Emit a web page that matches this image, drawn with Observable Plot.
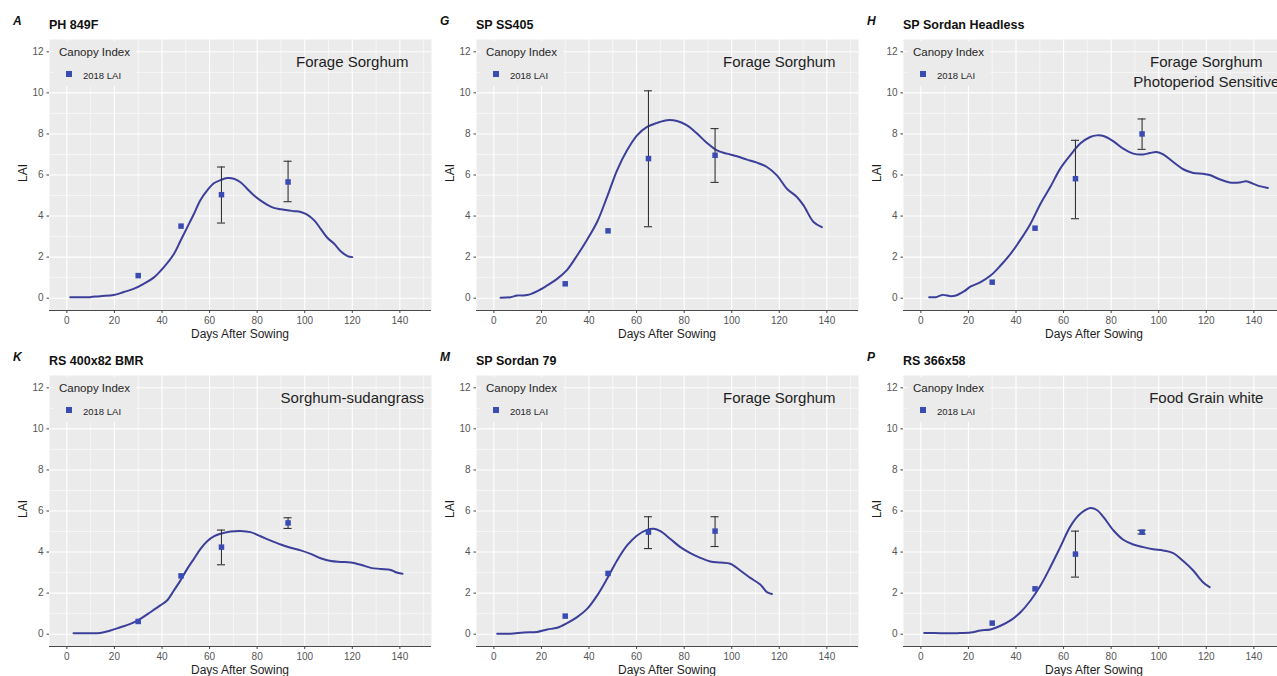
<!DOCTYPE html>
<html><head><meta charset="utf-8">
<script src="https://cdn.jsdelivr.net/npm/d3@7"></script>
<script src="https://cdn.jsdelivr.net/npm/@observablehq/plot@0.6"></script>
<style>
body{margin:0;background:#fff}
#wrap{position:relative;width:1277px;height:676px;overflow:hidden;background:#fff;font-family:"Liberation Sans",Arial,sans-serif}
.abs{position:absolute;white-space:nowrap;line-height:1}
.abs svg{display:block;max-width:none !important}
</style></head><body><div id="wrap"></div>
<script>
// ---------------- data ----------------
const panelLetters = ["A", "G", "H", "K", "M", "P"];
const panelTitles = ["PH 849F", "SP SS405", "SP Sordan Headless", "RS 400x82 BMR", "SP Sordan 79", "RS 366x58"];
const panelTypes = [
  ["Forage Sorghum"],
  ["Forage Sorghum"],
  ["Forage Sorghum", "Photoperiod Sensitive"],
  ["Sorghum-sudangrass"],
  ["Forage Sorghum"],
  ["Food Grain white"]
];
const annotX = 120;
const annotY = [11.5, 10.5];

const legendTitle = "Canopy Index";
const legendLabel = "2018 LAI";
const xLabel = "Days After Sowing";
const yLabel = "LAI";

const xTicks = [0, 20, 40, 60, 80, 100, 120, 140];
const xMinor = [10, 30, 50, 70, 90, 110, 130, 150];
const yTicks = [0, 2, 4, 6, 8, 10, 12];
const yMinor = [1, 3, 5, 7, 9, 11];
const xDomain = [-7.3, 153.3];
const yDomain = [-0.6, 12.6];

const obsDays = [30, 48, 65, 93];
const obsA = [1.10, 3.51, 5.04, 5.66];
const obsG = [0.70, 3.28, 6.80, 6.96];
const obsH = [0.78, 3.41, 5.82, 8.00];
const obsK = [0.62, 2.84, 4.24, 5.42];
const obsM = [0.88, 2.96, 4.97, 5.02];
const obsP = [0.54, 2.21, 3.90, 4.97];

// error bars [lo, hi] per observation day (null = none)
const errA = [null, null, [3.66, 6.39], [4.70, 6.67]];
const errG = [null, null, [3.48, 10.10], [5.64, 8.26]];
const errH = [null, null, [3.87, 7.69], [7.25, 8.73]];
const errK = [null, null, [3.38, 5.07], [5.15, 5.67]];
const errM = [null, null, [4.17, 5.72], [4.27, 5.72]];
const errP = [null, null, [2.78, 5.02], [4.88, 5.06]];

// simulated LAI curves [day, LAI]
const lineA = [[1.4,0.05],[7,0.05],[9.8,0.05],[14,0.1],[19.7,0.15],[23.9,0.3],[28,0.45],[32.3,0.7],[36.5,1.0],[40.7,1.5],[45,2.15],[47.8,2.8],[50.6,3.45],[53.4,4.1],[56,4.75],[59,5.25],[61.8,5.6],[64.6,5.75],[67.4,5.85],[70.2,5.82],[73,5.65],[75.8,5.33],[78.7,5.0],[81.5,4.75],[84.3,4.55],[87,4.4],[90,4.33],[92.7,4.28],[95.5,4.24],[98.3,4.2],[101,4.07],[104,3.79],[106.7,3.38],[109.6,2.93],[112.4,2.65],[115,2.3],[118,2.05],[120,2.0]];
const lineG = [[2.8,0.02],[7,0.05],[9.8,0.13],[14,0.15],[18.2,0.34],[22.4,0.62],[26.6,0.94],[30.8,1.38],[35,2.08],[39.2,2.85],[43.4,3.71],[47.6,4.93],[51.8,6.23],[56,7.2],[60.2,7.93],[64.4,8.34],[68.6,8.54],[72.8,8.67],[77,8.63],[81.2,8.42],[85.4,8.02],[89.6,7.56],[93.8,7.2],[98,7.04],[102.2,6.91],[106.4,6.75],[110.6,6.6],[114.8,6.39],[119,5.98],[123.2,5.33],[127.4,4.93],[130.2,4.52],[134.4,3.71],[137.9,3.46]];
const lineH = [[3.5,0.05],[6.3,0.05],[9,0.16],[12.6,0.1],[14.7,0.13],[18.1,0.33],[21,0.57],[25.1,0.78],[29.3,1.1],[33.5,1.59],[37.7,2.16],[41.9,2.85],[46.1,3.63],[50.3,4.6],[54.4,5.41],[58.6,6.31],[62.8,6.96],[67,7.53],[71.2,7.85],[74,7.93],[76.8,7.9],[81,7.64],[85.1,7.28],[89.3,7.04],[93.5,7.0],[96.3,7.07],[99.1,7.12],[101.9,7.0],[106.1,6.63],[110.3,6.28],[114.5,6.1],[118.6,6.06],[121.4,6.0],[125.6,5.79],[129.8,5.64],[134,5.64],[136.8,5.69],[139.6,5.58],[142.4,5.46],[145.9,5.37]];
const lineK = [[2.8,0.05],[8.4,0.05],[14,0.06],[18.3,0.18],[22.5,0.34],[26.7,0.5],[30.9,0.75],[35.1,1.07],[39.3,1.4],[42.1,1.64],[45,2.13],[47.7,2.61],[50.6,3.18],[53.4,3.67],[56.2,4.16],[59,4.53],[61.8,4.76],[64.6,4.89],[68.8,5.0],[73,5.03],[77.2,4.97],[81.4,4.77],[85.7,4.56],[89.9,4.37],[94.1,4.21],[98.3,4.08],[102.5,3.91],[106.7,3.7],[111,3.56],[115.2,3.52],[119.4,3.49],[123.6,3.38],[127.8,3.23],[132,3.18],[136.2,3.13],[138.3,3.02],[141.1,2.94]];
const lineM = [[1.4,0.02],[7,0.02],[12.6,0.08],[18.2,0.11],[22.4,0.23],[26.6,0.31],[30.8,0.54],[35,0.83],[39.2,1.23],[43.4,1.88],[47.6,2.7],[51.8,3.59],[56,4.32],[60.2,4.81],[64.4,5.08],[67.2,5.13],[70,5.02],[74.2,4.64],[78.4,4.24],[82.6,3.95],[86.8,3.72],[91,3.54],[95.2,3.49],[99.4,3.43],[103.6,3.1],[107.8,2.74],[112,2.42],[114.8,2.05],[116.9,1.96]];
const lineP = [[1.4,0.06],[8.4,0.05],[15.4,0.05],[20.9,0.08],[25.1,0.18],[29.3,0.23],[33.5,0.41],[37.7,0.67],[41.9,1.07],[46.1,1.64],[50.3,2.37],[54.4,3.26],[58.6,4.24],[62.8,5.24],[67,5.86],[71.2,6.15],[74,6.05],[76.8,5.7],[81,5.05],[85.1,4.6],[89.3,4.37],[93.5,4.24],[97.7,4.14],[101.9,4.08],[106.1,3.95],[110.3,3.56],[114.5,3.1],[118.6,2.53],[121.4,2.29]];

const allObs = [obsA, obsG, obsH, obsK, obsM, obsP];
const allErr = [errA, errG, errH, errK, errM, errP];
const allLines = [lineA, lineG, lineH, lineK, lineM, lineP];

// ---------------- layout / style ----------------
const colLeft = [0, 432, 862], colWidth = [432, 430, 424], colMarginLeft = [49, 44, 41];
const rowTop = [0, 336];
const FRAME_W = 382, SVG_H = 340, MT = 39, MB = 30;
const FONT = '"Liberation Sans", Arial, sans-serif';
const panelBg = "#EBEBEB", lineColor = "#3B3F9A", pointColor = "#3A4BB2", errColor = "#333333";
const capHalf = 1.7;

const wrap = document.getElementById("wrap");
function addDiv(html, css) {
  const d = document.createElement("div");
  d.className = "abs";
  d.innerHTML = html;
  Object.assign(d.style, css);
  wrap.appendChild(d);
  return d;
}

for (let i = 0; i < 6; i++) {
  const c = i % 3, r = Math.floor(i / 3);
  const left = colLeft[c], top = rowTop[r];
  const fl = left + colMarginLeft[c];
  const obs = obsDays.map((d, k) => ({day: d, lai: allObs[i][k]}));
  const err = obsDays.map((d, k) => allErr[i][k] ? {day: d, lo: allErr[i][k][0], hi: allErr[i][k][1]} : null).filter(Boolean);
  const line = allLines[i].map(([d, v]) => ({day: d, lai: v}));
  const annot = panelTypes[i].map((t, k) => ({text: t, x: annotX, y: annotY[k]}));

  const chart = Plot.plot({
    width: colWidth[c], height: SVG_H,
    marginLeft: colMarginLeft[c], marginRight: colWidth[c] - colMarginLeft[c] - FRAME_W,
    marginTop: MT, marginBottom: MB,
    style: {background: "transparent", fontFamily: FONT, fontSize: "10px", overflow: "visible", maxWidth: "none"},
    x: {domain: xDomain, axis: null},
    y: {domain: yDomain, axis: null},
    marks: [
      Plot.frame({fill: panelBg, stroke: "none"}),
      Plot.gridX(xMinor, {stroke: "#fff", strokeOpacity: 1, strokeWidth: 0.55}),
      Plot.gridY(yMinor, {stroke: "#fff", strokeOpacity: 1, strokeWidth: 0.55}),
      Plot.gridX(xTicks, {stroke: "#fff", strokeOpacity: 1, strokeWidth: 1.1}),
      Plot.gridY(yTicks, {stroke: "#fff", strokeOpacity: 1, strokeWidth: 1.1}),
      Plot.ruleY([yDomain[0]], {stroke: "#4a4a4a", strokeWidth: 1.2}),
      Plot.axisX(xTicks, {tickSize: 3, tickPadding: 3, label: null, stroke: "#444", fill: "#555", fontSize: 10}),
      Plot.axisY(yTicks, {tickSize: 2.5, tickPadding: 3.5, label: null, stroke: "#444", fill: "#555", fontSize: 10}),
      Plot.line(line, {x: "day", y: "lai", stroke: lineColor, strokeWidth: 2, curve: "catmull-rom"}),
      Plot.ruleX(err, {x: "day", y1: "lo", y2: "hi", stroke: errColor, strokeWidth: 1.1}),
      Plot.ruleY(err, {y: "lo", x1: d => d.day - capHalf, x2: d => d.day + capHalf, stroke: errColor, strokeWidth: 1.1}),
      Plot.ruleY(err, {y: "hi", x1: d => d.day - capHalf, x2: d => d.day + capHalf, stroke: errColor, strokeWidth: 1.1}),
      Plot.dot(obs, {x: "day", y: "lai", symbol: "square", fill: pointColor, stroke: "none", r: 3.1}),
      Plot.text(annot, {x: "x", y: "y", text: "text", fontSize: 15, fill: "#1e1e1e", fontFamily: FONT})
    ]
  });
  const holder = addDiv("", {left: left + "px", top: top + "px", width: colWidth[c] + "px", height: SVG_H + "px"});
  holder.appendChild(chart);

  // panel letter & title
  addDiv(panelLetters[i], {left: (fl - 36) + "px", top: (top + 14.8) + "px", fontSize: "12px", fontWeight: "bold", fontStyle: "italic", color: "#111"});
  addDiv(panelTitles[i], {left: fl + "px", top: (top + 19.4) + "px", fontSize: "12.5px", fontWeight: "bold", color: "#111"});

  // legend
  addDiv("", {left: (fl + 5) + "px", top: (top + 41) + "px", width: "82px", height: "45px", background: panelBg});
  addDiv(legendTitle, {left: (fl + 10) + "px", top: (top + 47.3) + "px", fontSize: "11.5px", color: "#262626"});
  addDiv("", {left: (fl + 17) + "px", top: (top + 71) + "px", width: "5.5px", height: "5.5px", background: pointColor});
  addDiv(legendLabel, {left: (fl + 34) + "px", top: (top + 70.5) + "px", fontSize: "9.5px", color: "#262626"});

  // axis titles
  addDiv(xLabel, {left: fl + "px", width: FRAME_W + "px", textAlign: "center", top: (top + 327.8) + "px", fontSize: "12px", color: "#1e1e1e"});
  addDiv(yLabel, {left: (fl - 26) + "px", top: (top + 173) + "px", fontSize: "12px", color: "#1e1e1e", transform: "translate(-50%,-50%) rotate(-90deg)"});
}
</script></body></html>
